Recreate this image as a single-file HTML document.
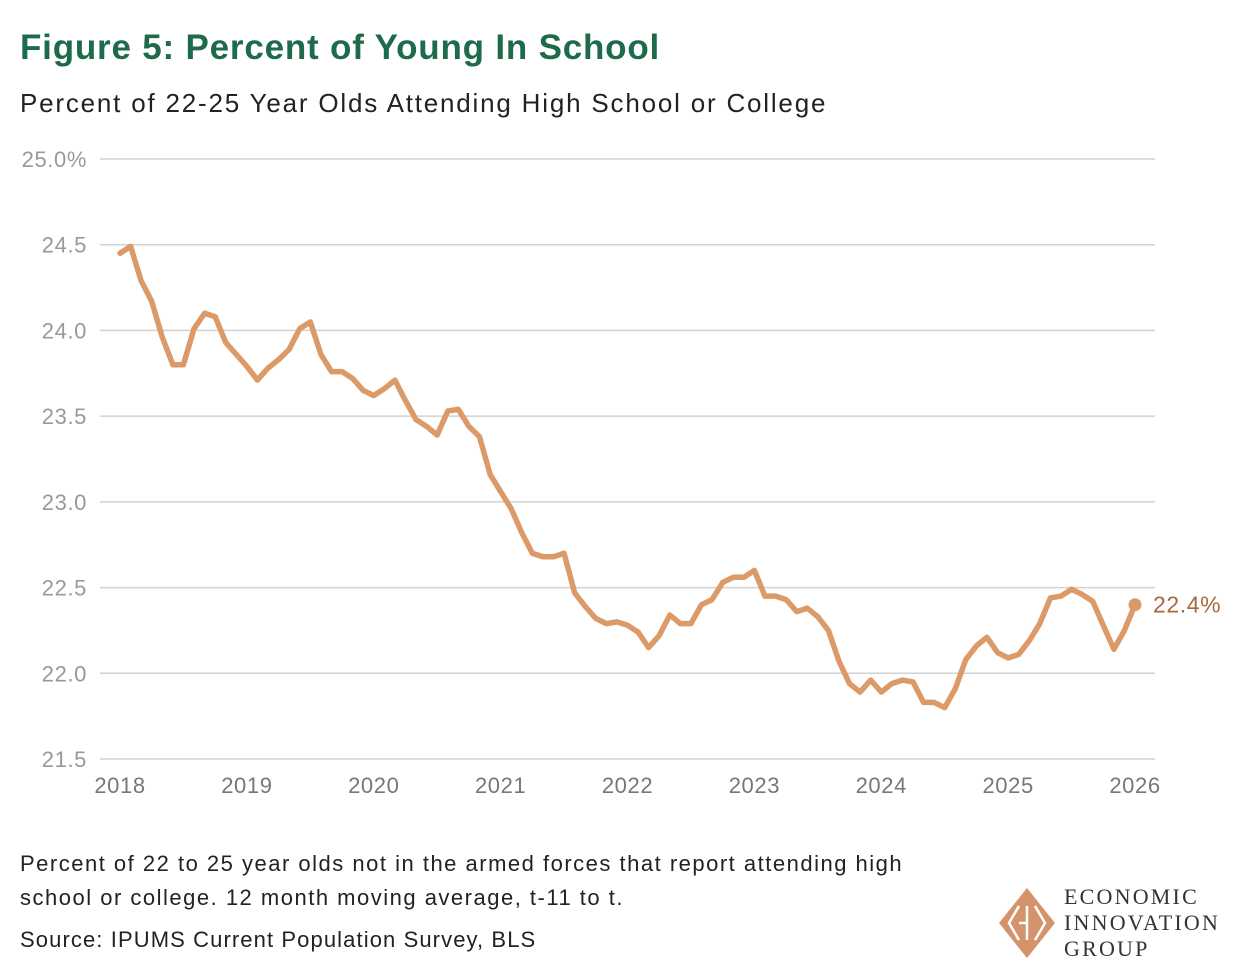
<!DOCTYPE html>
<html><head><meta charset="utf-8"><style>
body{margin:0;background:#fff;width:1240px;height:978px;overflow:hidden;font-family:"Liberation Sans","DejaVu Sans",sans-serif;position:relative}
.t{position:absolute;white-space:nowrap}
</style></head><body>
<div class="t" style="left:20px;top:28px;font-size:35px;font-weight:bold;color:#1e6b4b;letter-spacing:0.8px">Figure 5: Percent of Young In School</div>
<div class="t" style="left:20px;top:88px;font-size:26px;color:#222;letter-spacing:1.8px">Percent of 22-25 Year Olds Attending High School or College</div>
<svg id="chart" width="1240" height="820" style="position:absolute;left:0;top:0"></svg>
<div class="t" style="left:20px;top:847px;font-size:22px;line-height:34px;color:#222;letter-spacing:1.5px">Percent of 22 to 25 year olds not in the armed forces that report attending high<br>school or college. 12 month moving average, t-11 to t.</div>
<div class="t" style="left:20px;top:927px;font-size:22px;color:#222;letter-spacing:1.1px">Source: IPUMS Current Population Survey, BLS</div>
<svg width="60" height="74" style="position:absolute;left:997px;top:886px">
<polygon points="30,2 58,37 30,72 2,37" fill="#d4936b"/>
<path d="M22,20 L12,37 L22,54 M22,37 L30,37 M38,20 L48,37 L38,54 M30,20 V54" stroke="#fff" stroke-width="2.5" fill="none"/>
</svg>
<div class="t" style="left:1064px;top:884px;font-family:'Liberation Serif',serif;font-size:22px;line-height:26px;color:#333;letter-spacing:2.2px">ECONOMIC<br>INNOVATION<br>GROUP</div>
<script>
const yTicks=[21.5,22.0,22.5,23.0,23.5,24.0,24.5,25.0];
const yTickLabels=["21.5","22.0","22.5","23.0","23.5","24.0","24.5","25.0%"];
const xTicks=[2018,2019,2020,2021,2022,2023,2024,2025,2026];
const startYear=2018;
const values=[24.45,24.49,24.29,24.17,23.96,23.80,23.80,24.01,24.10,24.08,23.93,23.86,
23.79,23.71,23.78,23.83,23.89,24.01,24.05,23.86,23.76,23.76,23.72,23.65,
23.62,23.66,23.71,23.59,23.48,23.44,23.39,23.53,23.54,23.44,23.38,23.16,
23.06,22.96,22.82,22.70,22.68,22.68,22.70,22.47,22.39,22.32,22.29,22.30,
22.28,22.24,22.15,22.22,22.34,22.29,22.29,22.40,22.43,22.53,22.56,22.56,
22.60,22.45,22.45,22.43,22.36,22.38,22.33,22.25,22.07,21.94,21.89,21.96,
21.89,21.94,21.96,21.95,21.83,21.83,21.80,21.91,22.08,22.16,22.21,22.12,
22.09,22.11,22.19,22.29,22.44,22.45,22.49,22.46,22.42,22.28,22.14,22.25,22.40];
const endLabel="22.4%";
const svg=document.getElementById('chart');
const NS='http://www.w3.org/2000/svg';
const x=t=>120+(t-2018)*(1135-120)/8;
const y=v=>759-(v-21.5)*600/3.5;
function mk(tag,attrs){const e=document.createElementNS(NS,tag);for(const k in attrs)e.setAttribute(k,attrs[k]);svg.appendChild(e);return e;}
yTicks.forEach((v,i)=>{
 const l=mk('line',{x1:100,x2:1155,y1:y(v),y2:y(v),stroke:'#cfd3d3','stroke-width':1.5});
 
 
 const t=mk('text',{x:87,y:y(v)+8,'text-anchor':'end','font-size':22,fill:'#999','letter-spacing':'0.6'});
 t.textContent=yTickLabels[i];
 
 
});
xTicks.forEach(v=>{
 const t=mk('text',{x:x(v),y:793,'text-anchor':'middle','font-size':22,fill:'#777','letter-spacing':'0.6'});
 t.textContent=v;
 
 
});
const pts=values.map((v,i)=>x(startYear+i/12).toFixed(1)+','+y(v).toFixed(1)).join(' ');
const pl=mk('polyline',{points:pts,fill:'none',stroke:'#dc9a68','stroke-width':5.5,'stroke-linejoin':'round','stroke-linecap':'round'});


const li=values.length-1, lx=x(startYear+li/12), ly=y(values[li]);
const d=mk('circle',{cx:lx,cy:ly,r:6.5,fill:'#dc9a68'});


const lt=mk('text',{x:lx+18,y:ly+8,'font-size':23,fill:'#a8683e','letter-spacing':'0.6'});
lt.textContent=endLabel;


</script>
</body></html>
